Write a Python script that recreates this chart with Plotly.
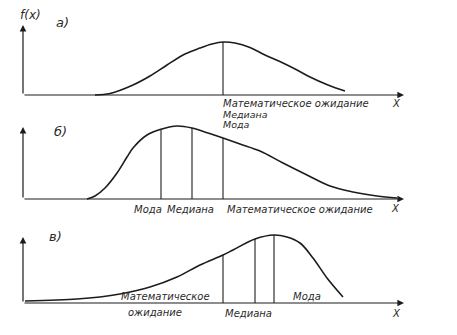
import numpy as np
import plotly.graph_objects as go

# Three density sketches f(x): a) symmetric, б) right-skewed, в) left-skewed.
# x and f are in arbitrary drawing units.
xa = [7.2, 8.7, 11.0, 12.7, 14.4, 16.2, 17.7, 18.9, 20.0, 21.2, 22.7, 24.2, 26.0, 27.4, 28.7, 30.5, 32.2]
fa = [0.0, 0.15, 1.0, 1.9, 3.0, 4.1, 4.7, 5.1, 5.3, 5.2, 4.75, 4.0, 3.2, 2.5, 1.8, 1.0, 0.4]

xb = [6.4, 7.2, 8.2, 9.4, 10.4, 11.0, 12.4, 13.9, 15.4, 16.9, 18.5, 20.0, 21.7, 23.7, 26.0, 28.4, 30.7, 33.0, 35.4, 37.4]
fb = [0.0, 0.3, 1.1, 2.6, 4.2, 5.1, 6.4, 7.0, 7.3, 7.1, 6.6, 6.1, 5.5, 4.8, 3.6, 2.4, 1.3, 0.7, 0.3, 0.1]

xc = [0.2, 5.4, 7.7, 9.7, 12.7, 15.4, 17.7, 20.0, 21.0, 23.2, 25.1, 26.4, 27.7, 29.0, 30.4, 32.0]
fc = [0.2, 0.4, 0.6, 0.9, 1.6, 2.6, 3.8, 4.8, 5.3, 6.4, 6.8, 6.6, 6.0, 4.5, 2.5, 0.6]

# Positions of the characteristic values (mode, median, expectation)
marks_a = [20.0]
marks_b = [13.8, 16.9, 20.0]
marks_c = [20.0, 23.2, 25.1]

# Axis extents
x_end = 38.1
y_tops = [7.0, 7.2, 6.6]

panels = [("x", "y", xa, fa, marks_a),
          ("x2", "y2", xb, fb, marks_b),
          ("x3", "y3", xc, fc, marks_c)]

INK = "#1c1c1c"
TXT = "#2a2a2a"
FONT = "DejaVu Sans"

fig = go.Figure()
for xr, yr, xs, fs, marks in panels:
    fig.add_trace(go.Scatter(x=xs, y=fs, mode="lines", xaxis=xr, yaxis=yr,
                             line=dict(color=INK, width=1.6, shape="spline", smoothing=1.0),
                             hoverinfo="skip", showlegend=False))
    for m in marks:
        top = float(np.interp(m, xs, fs))
        fig.add_trace(go.Scatter(x=[m, m], y=[0, top], mode="lines", xaxis=xr, yaxis=yr,
                                 line=dict(color=INK, width=1.1),
                                 hoverinfo="skip", showlegend=False))

annotations = []
for (xr, yr, *_), ytop in zip(panels, y_tops):
    # vertical axis with arrow
    annotations.append(dict(x=0, y=ytop, ax=0, ay=0, xref=xr, yref=yr, axref=xr, ayref=yr,
                            showarrow=True, arrowhead=2, arrowsize=1.1, arrowwidth=1.2,
                            arrowcolor=INK, text="", standoff=0))
    # horizontal axis with arrow
    annotations.append(dict(x=x_end, y=0, ax=0, ay=0, xref=xr, yref=yr, axref=xr, ayref=yr,
                            showarrow=True, arrowhead=2, arrowsize=1.1, arrowwidth=1.2,
                            arrowcolor=INK, text="", standoff=0))


def label(text, x, y, xr, yr, size=10, anchor="center"):
    annotations.append(dict(text="<i>" + text + "</i>", x=x, y=y, xref=xr, yref=yr,
                            showarrow=False, xanchor=anchor, yanchor="middle",
                            borderpad=0,
                            font=dict(family=FONT, size=size, color=TXT)))


# panel a
label("f(x)", 0.7, 8.0, "x", "y", size=12)
label("а)", 3.9, 7.3, "x", "y", size=13)
label("Математическое ожидание", 19.9, -0.85, "x", "y", anchor="left")
label("Медиана", 19.9, -1.9, "x", "y", size=9.5, anchor="left")
label("Мода", 19.9, -2.95, "x", "y", size=9.5, anchor="left")
label("X", 37.3, -0.8, "x", "y")

# panel б
label("б)", 3.7, 6.8, "x2", "y2", size=13)
label("Мода", 12.5, -1.0, "x2", "y2")
label("Медиана", 16.7, -1.0, "x2", "y2")
label("Математическое ожидание", 20.3, -1.0, "x2", "y2", anchor="left")
label("X", 37.2, -0.9, "x2", "y2")

# panel в
label("в)", 3.2, 6.7, "x3", "y3", size=13)
label("Математическое", 14.2, 0.7, "x3", "y3")
label("ожидание", 13.2, -0.9, "x3", "y3")
label("Медиана", 22.5, -1.0, "x3", "y3")
label("Мода", 28.4, 0.7, "x3", "y3")
label("X", 37.3, -1.0, "x3", "y3")

H = 335.0
def dom(base_px):
    # 10 px per unit: range [-4, 9] spans 130 px
    return [(H - (base_px + 40)) / H, (H - (base_px - 90)) / H]

xax = dict(range=[-2.3, 43.4], domain=[0, 1], visible=False, fixedrange=True)
fig.update_layout(
    width=457, height=335,
    margin=dict(l=0, r=0, t=0, b=0),
    paper_bgcolor="white", plot_bgcolor="rgba(0,0,0,0)",
    xaxis=dict(xax, anchor="y"),
    xaxis2=dict(xax, anchor="y2"),
    xaxis3=dict(xax, anchor="y3"),
    yaxis=dict(range=[-4, 9], domain=dom(95), visible=False, anchor="x"),
    yaxis2=dict(range=[-4, 9], domain=dom(199), visible=False, anchor="x2"),
    yaxis3=dict(range=[-3.2, 9], domain=[(H - (303 + 32)) / H, (H - (303 - 90)) / H],
                visible=False, anchor="x3"),
    annotations=annotations,
)

fig.write_html("out.html")
